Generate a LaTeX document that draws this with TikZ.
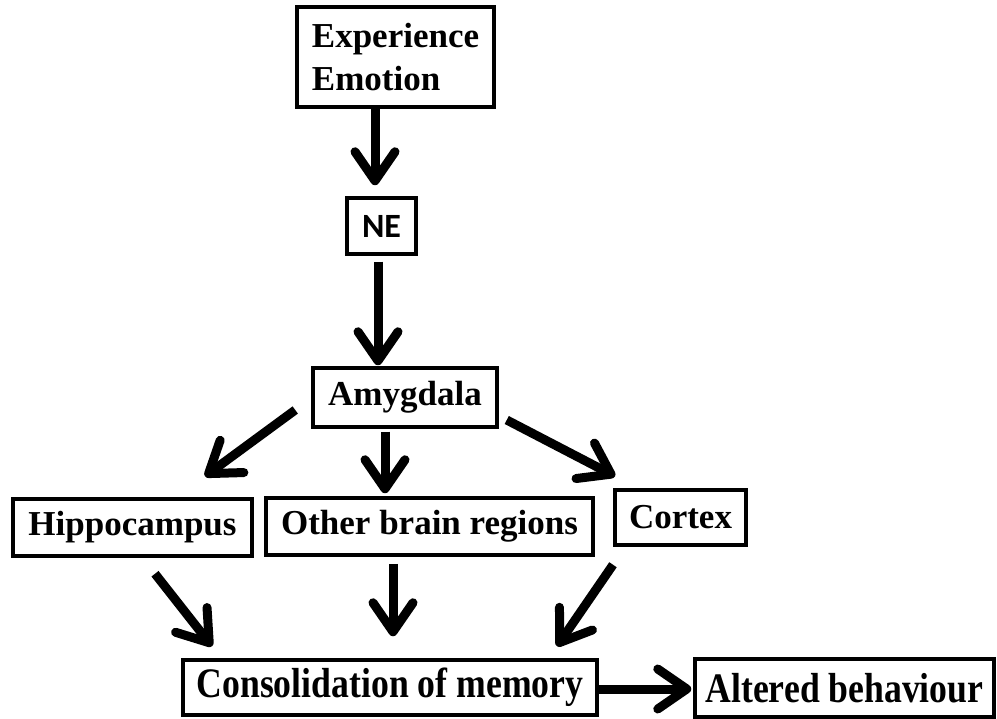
\documentclass[tikz,border=0pt]{standalone}
\usepackage{fontspec}
\setmainfont{Liberation Serif}
\newfontfamily\nefont{Carlito}
\usetikzlibrary{arrows.meta,calc}
\tikzset{
  box/.style={draw=black, line width=3.5pt, inner sep=0pt, fill=white,
    font=\fontsize{35}{43}\selectfont\bfseries},
  arr/.style={line width=9pt, -{Straight Barb[length=29pt,width=40pt,round]}},
}
\newcommand{\condensed}[1]{\scalebox{0.85}[1]{\fontsize{42}{48}\selectfont\bfseries #1}}
\begin{document}
\begin{tikzpicture}[x=1pt,y=-1pt]
\useasboundingbox (0,0) rectangle (997,719);
\node[box, minimum width=197pt, minimum height=100pt, align=left] (exp) at (395.5,57) {Experience\\Emotion};
\node[box, minimum width=69pt, minimum height=56pt, font=\fontsize{34}{40}\selectfont\nefont\bfseries] (ne) at (381.5,226) {NE};
\node[box, minimum width=184pt, minimum height=59pt] (amy) at (405,397.5) {Amygdala};
\node[box, minimum width=239pt, minimum height=57pt] (hip) at (132.5,527.5) {Hippocampus};
\node[box, minimum width=327pt, minimum height=57pt] (oth) at (429.5,526.5) {Other brain regions};
\node[box, minimum width=131pt, minimum height=55pt] (cor) at (680.5,517.5) {Cortex};
\node[box, minimum width=414pt, minimum height=55pt] (cons) at (390,687.5) {\condensed{Consolidation of memory}};
\node[box, minimum width=299pt, minimum height=58pt] (alt) at (844.5,688) {\condensed{Altered behaviour}};

\draw[arr] ($(exp.south)+(-20.5,0)$) -- ($(ne.north)+(-6.5,-11)$);
\draw[arr] ($(ne.south)+(-3.5,6)$) -- ($(amy.north)+(-27,-1)$);
\draw[arr] ($(amy.west)+(-16,12.5)$) -- ($(hip.north)+(72.5,-21)$);
\draw[arr] ($(amy.south)+(-20,3)$) -- ($(oth.north)+(-44.5,-3)$);
\draw[arr] ($(amy.east)+(8,22.5)$) -- ($(cor.north)+(-65.5,-12)$);
\draw[arr] ($(hip.south)+(22.5,16)$) -- ($(cons.north)+(-178,-12)$);
\draw[arr] ($(oth.south)+(-36.5,7)$) -- ($(cons.north)+(3,-22)$);
\draw[arr] ($(cor.south)+(-67.5,18)$) -- ($(cons.north)+(167,-12)$);
\draw[arr] ($(cons.east)+(0,1.5)$) -- ($(alt.west)+(-2,1)$);
\end{tikzpicture}
\end{document}
